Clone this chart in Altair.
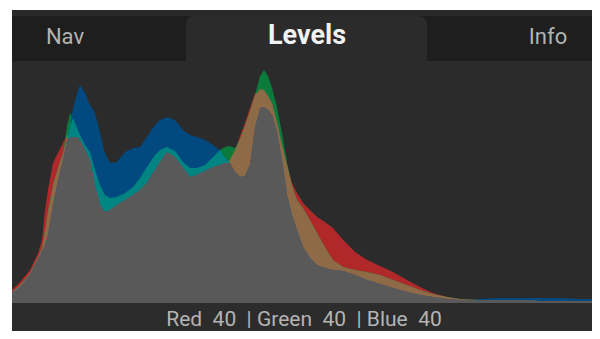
import altair as alt
import pandas as pd

# histogram levels (0-255) and per-channel counts (arbitrary units)
levels = [0, 3.5, 7.8, 11.3, 13.0, 14.3, 15.6, 17.8, 19.9, 22.1, 23.9, 25.2, 26.5, 28.2, 29.5,
          31.7, 33.8, 36.0, 38.2, 40.3, 42.5, 45.5, 49.0, 52.5, 55.5, 58.5, 62.0, 64.2, 67.2,
          70.7, 74.2, 77.2, 80.2, 83.7, 87.2, 90.2, 92.4, 94.5, 96.7, 98.9, 101.0, 103.2, 105.4,
          107.6, 109.3, 111.0, 112.8, 114.9, 117.1, 119.3, 121.4, 123.6, 126.2, 129.2, 132.3,
          135.7, 139.2, 143.6, 148.8, 154.0, 159.6, 165.2, 171.3, 176.9, 182.6, 188.7, 194.3,
          203.0, 211.6, 220.3, 229.0, 237.7, 246.3, 255.0]

red = [13, 21, 33, 50, 63, 93, 113, 140, 150, 160, 168, 166, 166, 166, 163, 153, 143, 118, 98,
       91, 93, 98, 103, 108, 113, 120, 133, 141, 151, 146, 135, 126, 128, 132, 136, 138, 140, 143,
       153, 167, 180, 195, 210, 214, 213, 207, 200, 181, 158, 138, 120, 110, 100, 93, 86, 81, 75,
       63, 51, 43, 37, 31, 23, 16, 10, 6, 4, 3, 3, 3, 2, 2, 2, 2]

green = [11, 18, 30, 46, 55, 72, 92, 118, 135, 150, 178, 190, 185, 175, 168, 158, 151, 133, 118,
         108, 105, 106, 110, 116, 125, 136, 148, 153, 156, 152, 141, 135, 135, 138, 146, 153, 156,
         157, 155, 164, 177, 192, 208, 227, 233, 227, 215, 196, 170, 140, 118, 103, 95, 83, 70, 56,
         43, 36, 33, 31, 28, 23, 18, 13, 9, 6, 4, 3, 3, 3, 2, 2, 2, 2]

blue = [10, 16, 28, 44, 52, 58, 68, 98, 122, 143, 163, 178, 195, 210, 218, 210, 198, 190, 170,
        150, 140, 141, 151, 155, 156, 166, 178, 183, 186, 183, 173, 168, 166, 163, 158, 153, 146,
        140, 131, 126, 127, 138, 175, 195, 196, 193, 188, 171, 143, 108, 88, 73, 56, 45, 38, 35,
        33, 32, 28, 23, 19, 15, 11, 8, 6, 4, 3, 4, 5, 5, 5, 5, 4, 4]

tabs = ["Nav", "Levels", "Info"]
NB = "\u00a0"
footer_text = ("Red" + NB * 2 + "40" + NB * 2 + "|" + NB + "Green" + NB * 2 + "40"
               + NB * 2 + "|" + NB + "Blue" + NB * 2 + "40")

df = pd.DataFrame({"level": levels, "r": red, "g": green, "b": blue})

W, H = 580, 321          # visible view (page x 12..592)
FULL_W = 588             # panel width in the reference (cropped at the right)
BASE, TOP = 293, 51

xs = alt.Scale(domain=[0, 255], range=[0, FULL_W], nice=False, zero=False)
ys = alt.Scale(domain=[0, 242], range=[BASE, TOP], nice=False)

one = alt.Data(values=[{"k": 1}])


def rect(x1, x2, y1, y2, color, **kw):
    return alt.Chart(one).mark_rect(color=color, **kw).encode(
        x=alt.value(x1), x2=alt.value(x2), y=alt.value(y1), y2=alt.value(y2))


def area(expr, color):
    return alt.Chart(df).transform_calculate(v=expr).mark_area(
        color=color, opacity=1, interpolate="linear", clip=True).encode(
        x=alt.X("level:Q", scale=xs, axis=None),
        y=alt.Y("v:Q", scale=ys, axis=None),
    )


top_strip = rect(0, W, 0, 6, "#2a2a2a")
header = rect(0, W, 6, TOP, "#1e1e1e")
tab = rect(174, 415, 6, TOP, "#2b2b2b", cornerRadiusTopLeft=8, cornerRadiusTopRight=8)
plot_bg = rect(0, W, TOP, BASE, "#2b2b2b")
footer = rect(0, W, BASE, H, "#2c2c2c")

layers = [
    area("datum.r", "#b1282a"),
    area("datum.g", "#0b7b3b"),
    area("datum.b", "#01497f"),
    area("min(datum.r, datum.g)", "#8f6a47"),
    area("min(datum.g, datum.b)", "#018583"),
    area("min(datum.r, datum.b)", "#7b3f6a"),
    area("min(datum.r, min(datum.g, datum.b))", "#595959"),
]


def label(txt, x, y, size, color, weight="normal"):
    return alt.Chart(one).mark_text(
        text=txt, font="Roboto", fontSize=size, color=color, fontWeight=weight,
        align="center", baseline="alphabetic").encode(x=alt.value(x), y=alt.value(y))


texts = [
    label(tabs[0], 53, 34, 22, "#b4b4b4"),
    label(tabs[1], 295, 34, 27, "#f2f2f2", "bold"),
    label(tabs[2], 536, 34, 22, "#b4b4b4"),
    label(footer_text, 292, 316, 21, "#b4b4b4"),
]

chart = alt.layer(top_strip, header, tab, plot_bg, footer, *layers, *texts).properties(
    width=W, height=H,
    padding={"left": 4, "top": 2, "right": 0, "bottom": 0},
    autosize=alt.AutoSizeParams(type="none"),
    background="white",
).configure_view(stroke=None, fill="#2b2b2b")

chart.save("out.html", embed_options={"renderer": "svg", "actions": False})
